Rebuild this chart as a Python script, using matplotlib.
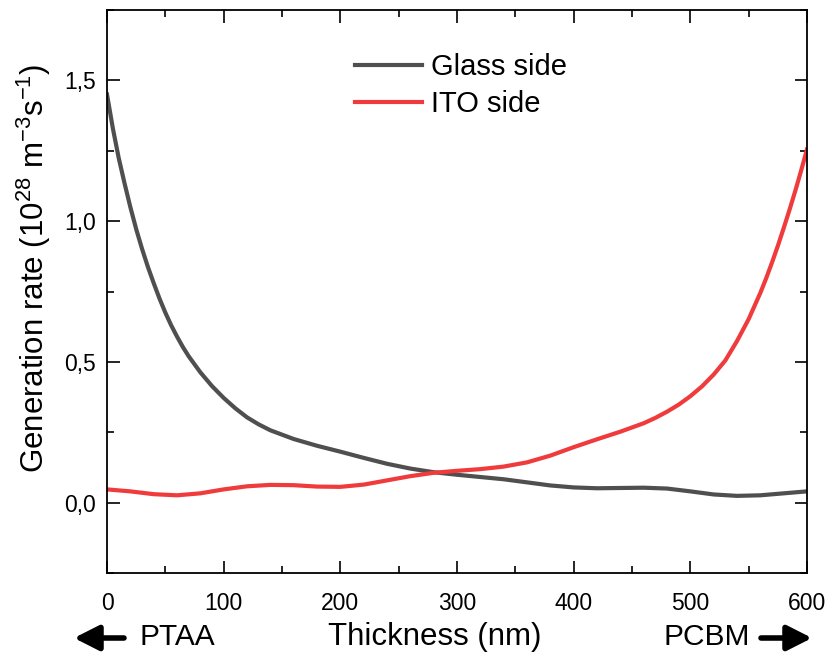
import matplotlib
matplotlib.use("Agg")
import matplotlib.pyplot as plt
from matplotlib.ticker import MultipleLocator, FuncFormatter

# Generation rate profiles across the absorber (10^28 m^-3 s^-1)
glass_x = [0, 5, 10, 15, 20, 25, 30, 35, 40, 45, 50, 55, 60, 65, 70, 80, 90,
           100, 110, 120, 130, 140, 160, 180, 200, 220, 240, 260, 280, 300,
           320, 340, 360, 380, 400, 420, 440, 460, 480, 500, 520, 540, 560,
           580, 600]
glass_y = [1.45, 1.33, 1.225, 1.135, 1.05, 0.972, 0.902, 0.838, 0.78, 0.725,
           0.675, 0.63, 0.59, 0.553, 0.52, 0.463, 0.414, 0.372, 0.335, 0.303,
           0.278, 0.257, 0.226, 0.202, 0.181, 0.159, 0.138, 0.121, 0.108,
           0.099, 0.091, 0.083, 0.072, 0.061, 0.054, 0.051, 0.052, 0.053,
           0.050, 0.040, 0.029, 0.024, 0.026, 0.033, 0.040]

ito_x = [0, 20, 40, 60, 80, 100, 120, 140, 160, 180, 200, 220, 240, 260, 280,
         300, 320, 340, 360, 380, 400, 420, 440, 460, 470, 480, 490, 500, 510,
         520, 530, 540, 550, 560, 565, 570, 575, 580, 585, 590, 595, 600]
ito_y = [0.047, 0.040, 0.030, 0.026, 0.033, 0.047, 0.058, 0.063, 0.062, 0.057,
         0.056, 0.064, 0.079, 0.094, 0.106, 0.113, 0.119, 0.128, 0.143, 0.167,
         0.197, 0.225, 0.252, 0.282, 0.301, 0.323, 0.348, 0.378, 0.413, 0.455,
         0.505, 0.574, 0.652, 0.745, 0.797, 0.853, 0.912, 0.975, 1.04, 1.108,
         1.18, 1.255]

plt.rcParams["font.family"] = ["Liberation Sans", "DejaVu Sans"]
plt.rcParams["mathtext.fontset"] = "custom"
plt.rcParams["mathtext.rm"] = "Liberation Sans"
plt.rcParams["mathtext.it"] = "Liberation Sans:italic"

fig = plt.figure(figsize=(8.27, 6.56), dpi=100)
ax = fig.add_axes([107 / 827, 1 - 573 / 656, 700 / 827, 563 / 656])

ax.plot(glass_x, glass_y, color="#4f4f4f", lw=3, label="Glass side",
        solid_joinstyle="round")
ax.plot(ito_x, ito_y, color="#f03b3d", lw=3, label="ITO side",
        solid_joinstyle="round")

ax.set_xlim(0, 600)
ax.set_ylim(-0.25, 1.75)
ax.xaxis.set_major_locator(MultipleLocator(100))
ax.xaxis.set_minor_locator(MultipleLocator(50))
ax.yaxis.set_major_locator(MultipleLocator(0.5))
ax.yaxis.set_minor_locator(MultipleLocator(0.25))
ax.yaxis.set_major_formatter(FuncFormatter(lambda v, p: f"{v:.1f}".replace(".", ",")))

ax.tick_params(which="both", direction="in", top=True, right=True, width=1.2)
ax.tick_params(which="major", length=9, labelsize=16.5)
ax.tick_params(which="minor", length=5)
ax.tick_params(axis="x", which="major", pad=14)
ax.tick_params(axis="y", which="major", pad=8)
for sp in ax.spines.values():
    sp.set_linewidth(1.3)

ax.set_ylabel(r"Generation rate (10$^{28}$ m$^{-3}$s$^{-1}$)", fontsize=22.5)
ax.yaxis.set_label_coords(-0.105, 0.541)
ax.yaxis.label.set_va("center")
ax.set_xlabel("Thickness (nm)", fontsize=22.5)
ax.xaxis.set_label_coords(0.4686, -0.1137)
ax.xaxis.label.set_va("center")

# layer direction markers under the thickness axis
fig.text(139 / 827, 1 - 637 / 656, "PTAA", fontsize=21.5, ha="left", va="center")
fig.text(750 / 827, 1 - 637 / 656, "PCBM", fontsize=21.5, ha="right", va="center")
arrow = dict(arrowstyle="-|>,head_length=0.75,head_width=0.38", lw=4, color="black",
             mutation_scale=20, shrinkA=0, shrinkB=0)
ax.annotate("", xy=(74 / 827, 1 - 638 / 656), xytext=(124 / 827, 1 - 638 / 656),
            xycoords="figure fraction", arrowprops=arrow)
ax.annotate("", xy=(812 / 827, 1 - 638 / 656), xytext=(761 / 827, 1 - 638 / 656),
            xycoords="figure fraction", arrowprops=arrow)

ax.legend(loc="center left", bbox_to_anchor=(0.354, 0.866), frameon=False,
          fontsize=21, handlelength=2.3, handletextpad=0.3, labelspacing=0.32,
          borderpad=0, borderaxespad=0)

fig.savefig("out.png", dpi=100)
